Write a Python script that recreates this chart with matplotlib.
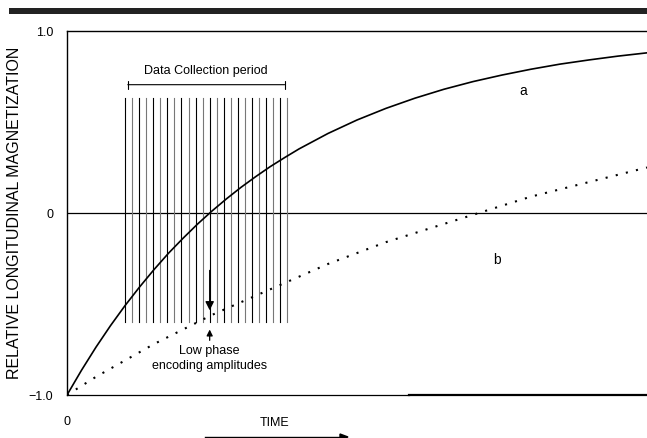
import matplotlib.pyplot as plt

# time axis in arbitrary units (0..10 across the plot)
time_a = [0, 0.25, 0.5, 0.75, 1, 1.25, 1.5, 1.75, 2, 2.25, 2.5, 2.75, 3, 3.25, 3.5, 3.75,
          4, 4.5, 5, 5.5, 6, 6.5, 7, 7.5, 8, 8.5, 9, 9.5, 10]
# curve a (short T1)
curve_a = [-1.0, -0.864, -0.737, -0.619, -0.509, -0.407, -0.311, -0.221, -0.139, -0.061,
           0.011, 0.078, 0.141, 0.199, 0.254, 0.304, 0.352, 0.437, 0.511, 0.575, 0.631,
           0.680, 0.722, 0.758, 0.790, 0.818, 0.841, 0.862, 0.880]
time_b = [0, 0.5, 1, 1.5, 2, 2.5, 3, 3.5, 4, 4.5, 5, 5.5, 6, 6.5, 7, 7.5, 8, 8.5, 9, 9.5, 10]
# curve b (long T1)
curve_b = [-1.0, -0.90, -0.81, -0.72, -0.64, -0.56, -0.49, -0.42, -0.35, -0.28, -0.22,
           -0.16, -0.11, -0.06, -0.01, 0.04, 0.09, 0.13, 0.17, 0.21, 0.25]
# readout (phase encoding) lines
pulse_times = [1.00, 1.12, 1.24, 1.36, 1.49, 1.61, 1.73, 1.85, 1.97, 2.10, 2.22, 2.34,
               2.46, 2.58, 2.70, 2.83, 2.95, 3.07, 3.19, 3.31, 3.43, 3.56, 3.68, 3.80]
pulse_top = 0.63
pulse_bottom = -0.60
center_idx = 12

plt.rcParams['font.family'] = ['Liberation Sans', 'DejaVu Sans']

fig = plt.figure(figsize=(6.47, 4.38), dpi=100)
# black band at the top of the figure
fig.add_artist(plt.Rectangle((9 / 647, 1 - 14 / 438), 1, 6 / 438,
                             transform=fig.transFigure, color='#222222', lw=0))

ax = fig.add_axes([67 / 647, 43 / 438, 580 / 647, 364 / 438])
ax.set_xlim(0, 10)
ax.set_ylim(-1, 1)
ax.spines['right'].set_visible(False)
ax.spines['bottom'].set_visible(False)
ax.spines['left'].set_linewidth(1.0)
ax.spines['top'].set_linewidth(1.0)
ax.tick_params(length=0, labelsize=9, pad=10)
ax.tick_params(axis='x', pad=15)
ax.set_xticks([0])
ax.set_xticklabels(['0'])
ax.set_yticks([-1, 0, 1])
ax.set_yticklabels(['\u22121.0', '0', '1.0'])
ax.set_ylabel('RELATIVE LONGITUDINAL MAGNETIZATION', fontsize=11.5)
ax.yaxis.set_label_coords(-0.077, 0.5)

# bottom axis line: thin then thicker
ax.plot([0, 5.9], [-1, -1], color='black', lw=0.9, clip_on=False)
ax.plot([5.9, 10], [-1, -1], color='black', lw=1.6, clip_on=False)
ax.axhline(0, color='black', lw=0.9)

for i, t in enumerate(pulse_times):
    ax.plot([t, t], [pulse_bottom, pulse_top],
            color='black' if i % 2 == 0 else '#777777', lw=0.8)

ax.plot(time_a, curve_a, color='black', lw=1.2)
ax.plot(time_b, curve_b, color='black', lw=1.5, linestyle=(0, (1, 4)))

tc = pulse_times[center_idx]
ax.annotate('', xy=(tc, -0.55), xytext=(tc, -0.30),
            arrowprops=dict(arrowstyle='-|>', color='black', lw=0.9, mutation_scale=13))
ax.annotate('', xy=(tc, -0.625), xytext=(tc, -0.715),
            arrowprops=dict(arrowstyle='-|>', color='black', lw=0.9, mutation_scale=9))
ax.text(tc, -0.725, 'Low phase\nencoding amplitudes', ha='center', va='top', fontsize=9,
        linespacing=1.3)

ax.annotate('', xy=(pulse_times[0], 0.705), xytext=(pulse_times[-1], 0.705),
            arrowprops=dict(arrowstyle='|-|', color='black', lw=0.8, mutation_scale=3))
ax.text((pulse_times[0] + pulse_times[-1]) / 2, 0.78, 'Data Collection period',
        ha='center', va='center', fontsize=9)

ax.text(7.86, 0.67, 'a', fontsize=10, ha='center', va='center')
ax.text(7.41, -0.26, 'b', fontsize=10, ha='center', va='center')

fig.text(275 / 647, 1 - 423 / 438, 'TIME', fontsize=9, ha='center', va='center')
fig.add_artist(plt.Line2D([205 / 647, 340 / 647], [1 - 437 / 438] * 2, color='black', lw=1.0))
fig.patches.append(plt.Polygon([[340 / 647, 1 - 434 / 438], [348 / 647, 1 - 437 / 438],
                                [340 / 647, 1 - 440 / 438]], closed=True, color='black',
                               transform=fig.transFigure))

fig.savefig('out.png', dpi=100)
